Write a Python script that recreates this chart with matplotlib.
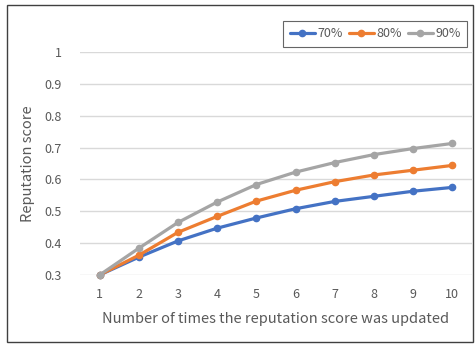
import matplotlib
matplotlib.use("Agg")
import matplotlib.pyplot as plt
from matplotlib.patches import Rectangle

plt.rcParams['font.family'] = ['Noto Sans CJK KR', 'DejaVu Sans']

updates = [1, 2, 3, 4, 5, 6, 7, 8, 9, 10]
series_names = ["70%", "80%", "90%"]
s70 = [0.300, 0.356, 0.407, 0.447, 0.479, 0.508, 0.531, 0.547, 0.563, 0.575]
s80 = [0.300, 0.362, 0.434, 0.484, 0.532, 0.566, 0.593, 0.614, 0.629, 0.644]
s90 = [0.300, 0.384, 0.465, 0.529, 0.584, 0.623, 0.653, 0.678, 0.697, 0.713]
yticks = [0.3, 0.4, 0.5, 0.6, 0.7, 0.8, 0.9, 1.0]
ytick_labels = ["0.3", "0.4", "0.5", "0.6", "0.7", "0.8", "0.9", "1"]
colors = ["#4472C4", "#ED7D31", "#A5A5A5"]

W, H = 475, 345
fig = plt.figure(figsize=(W / 100, H / 100), dpi=100)
ax = fig.add_axes([80 / W, 1 - 275 / H, 392 / W, 223 / H])

for vals, name, c in zip([s70, s80, s90], series_names, colors):
    ax.plot(updates, vals, color=c, lw=2.3, marker='o', ms=4.5,
            solid_capstyle='round', solid_joinstyle='round', label=name)

ax.set_xlim(0.5, 10.5)
ax.set_ylim(0.3, 1.0)
ax.set_yticks(yticks)
ax.set_yticklabels(ytick_labels)
ax.set_xticks(updates)
ax.set_xticklabels([str(u) for u in updates])
ax.tick_params(length=0, labelsize=9, colors="#595959")
ax.tick_params(axis='y', pad=13)
ax.tick_params(axis='x', pad=9)
ax.grid(axis='y', color="#D9D9D9", lw=1)
ax.set_axisbelow(True)
for s in ax.spines.values():
    s.set_visible(False)
for l in ax.lines:
    l.set_clip_on(False)

ax.set_xlabel("Number of times the reputation score was updated", fontsize=10.5,
              color="#595959", labelpad=8)
ax.set_ylabel("Reputation score", fontsize=10.5, color="#595959", labelpad=7)

leg = fig.legend(loc='upper right', bbox_to_anchor=(467 / W, 1 - 21 / H),
                 ncol=3, fontsize=9, frameon=True, fancybox=False,
                 handlelength=2.0, handletextpad=0.2, columnspacing=0.5,
                 borderpad=0.5, borderaxespad=0)
leg.get_frame().set_edgecolor("#404040")
leg.get_frame().set_linewidth(0.8)
for t in leg.get_texts():
    t.set_color("#595959")

fig.patches.append(Rectangle((7 / W, 3 / H), 466 / W, 337 / H, transform=fig.transFigure,
                             fill=False, edgecolor="#404040", lw=1))

fig.savefig("out.png", dpi=100)
